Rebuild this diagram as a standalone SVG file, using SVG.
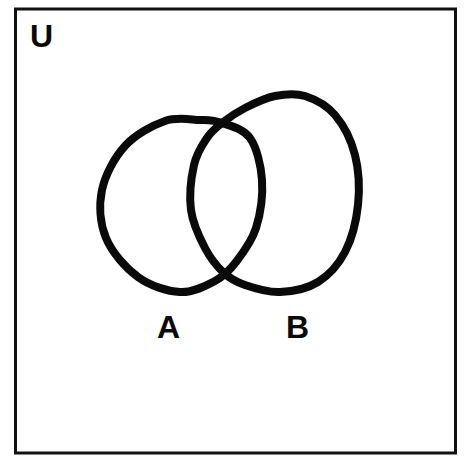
<svg xmlns="http://www.w3.org/2000/svg" width="469" height="457" viewBox="0 0 469 457">
<style>
.frame{fill:none;stroke:#111;stroke-width:3}
.set{fill:none;stroke:#0a0a0a;stroke-width:8;stroke-linejoin:round;stroke-linecap:round}
.lbl{font-family:"Liberation Sans",Arial,sans-serif;font-weight:bold;font-size:32px;fill:#0a0a0a}
</style>
<rect width="469" height="457" fill="#fff"/>
<g id="universe">
<rect class="frame" x="15.5" y="9" width="440" height="444"/>
<text class="lbl" x="30" y="47">U</text>
</g>
<g id="setA">
<path class="set" d="M222,123 C230.3,126 243.3,128.5 250,138 C256.7,147.5 261,165 262,180 C263,195 260.3,214.3 256,228 C251.7,241.7 242.8,253.2 236,262 C229.2,270.8 224.3,276 215,281 C205.7,286 192.8,292.7 180,292 C167.2,291.3 150.3,286 138,277 C125.7,268 112,252.5 106,238 C100,223.5 98.8,205.3 102,190 C105.2,174.7 114.5,157.5 125,146 C135.5,134.5 152.5,125.3 165,121 C177.5,116.7 190.5,119.7 200,120 C209.5,120.3 213.7,120 222,123 Z"/>
<text class="lbl" x="157" y="338">A</text>
</g>
<g id="setB">
<path class="set" d="M222,123 C228.3,118 236.2,112.5 245,108 C253.8,103.5 265,98 275,96 C285,94 295,92.8 305,96 C315,99.2 326.7,105.2 335,115 C343.3,124.8 351.2,140 355,155 C358.8,170 359.7,188.8 358,205 C356.3,221.2 351.7,239.2 345,252 C338.3,264.8 328.8,275.3 318,282 C307.2,288.7 292.2,291.5 280,292 C267.8,292.5 254.3,288.2 245,285 C235.7,281.8 230.7,279.2 224,273 C217.3,266.8 210.5,258.5 205,248 C199.5,237.5 192.8,223.8 191,210 C189.2,196.2 191.3,177 194,165 C196.7,153 202.3,145 207,138 C211.7,131 215.7,128 222,123 Z"/>
<text class="lbl" x="286" y="338">B</text>
</g>
<g id="connectors"></g>
</svg>
